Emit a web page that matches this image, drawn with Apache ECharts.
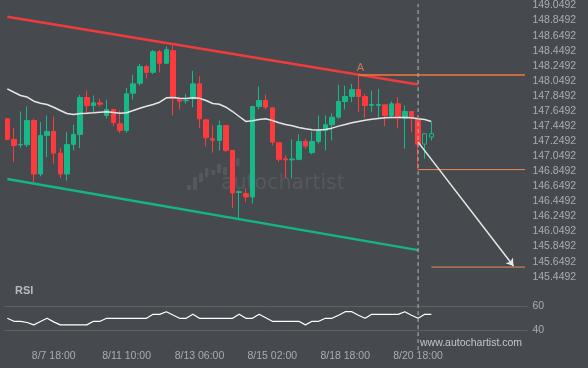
<!DOCTYPE html>
<html><head><meta charset="utf-8">
<script src="https://cdn.jsdelivr.net/npm/echarts@6/dist/echarts.min.js"></script>
<style>html,body{margin:0;padding:0;background:#464a4f;}#c{width:588px;height:368px;}</style>
</head><body><div id="c"></div>
<script>
// ---- data ----
const tickLabels = ['8/7 18:00', '8/11 10:00', '8/13 06:00', '8/15 02:00', '8/18 18:00', '8/20 18:00'];
const tickIndex = [7, 18, 29, 40, 51, 62];
const priceTicks = ['149.0492','148.8492','148.6492','148.4492','148.2492','148.0492','147.8492','147.6492','147.4492','147.2492','147.0492','146.8492','146.6492','146.4492','146.2492','146.0492','145.8492','145.6492','145.4492'];
const rsiTicks = [40, 60];
const slotCount = 79; // 65 candles + future space
// [open, close, low, high]
const candles = [
  [147.546,147.272,147.265,147.555],
  [147.272,147.192,146.971,147.426],
  [147.199,147.205,147.157,147.642],
  [147.201,147.523,147.170,147.712],
  [147.523,146.812,146.703,147.546],
  [146.812,147.325,146.782,147.501],
  [147.325,147.378,147.037,147.589],
  [147.378,147.090,146.950,147.576],
  [147.090,146.812,146.759,147.157],
  [146.812,147.205,146.725,147.368],
  [147.205,147.338,147.126,147.466],
  [147.338,147.828,147.157,147.863],
  [147.828,147.722,147.603,147.920],
  [147.722,147.757,147.633,147.854],
  [147.757,147.739,147.708,147.810],
  [147.589,147.669,147.546,147.797],
  [147.669,147.493,147.448,147.672],
  [147.479,147.391,147.355,147.655],
  [147.391,147.877,147.360,147.956],
  [147.884,148.009,147.801,148.128],
  [148.017,148.238,147.986,148.274],
  [148.238,148.162,148.083,148.260],
  [148.162,148.436,148.141,148.459],
  [148.436,148.282,148.162,148.459],
  [148.282,148.463,148.274,148.507],
  [148.450,147.824,147.589,148.516],
  [147.810,147.779,147.669,147.824],
  [147.784,147.791,147.744,147.877],
  [147.810,148.009,147.700,148.181],
  [148.009,147.546,147.421,148.109],
  [147.532,147.294,147.179,147.535],
  [147.281,147.262,147.096,147.457],
  [147.258,147.457,147.126,147.523],
  [147.457,147.126,147.104,147.460],
  [147.126,146.561,146.362,147.130],
  [146.568,146.578,146.222,146.597],
  [146.553,146.508,146.442,146.619],
  [146.508,147.708,146.421,147.712],
  [147.708,147.788,147.669,147.973],
  [147.788,147.699,147.669,147.867],
  [147.691,147.236,147.192,147.694],
  [147.228,147.007,146.971,147.231],
  [147.013,147.000,146.759,147.060],
  [147.000,147.011,146.752,147.272],
  [147.007,147.245,146.994,147.338],
  [147.245,147.183,147.149,147.281],
  [147.096,147.245,147.073,147.378],
  [147.245,147.391,147.215,147.589],
  [147.391,147.466,147.126,147.589],
  [147.466,147.567,147.258,147.619],
  [147.567,147.775,147.546,147.996],
  [147.775,147.841,147.669,147.986],
  [147.841,147.933,147.765,148.009],
  [147.933,147.841,147.633,148.128],
  [147.841,147.722,147.554,147.877],
  [147.724,147.735,147.633,147.920],
  [147.724,147.735,147.554,147.943],
  [147.731,147.589,147.448,147.734],
  [147.589,147.744,147.567,147.775],
  [147.744,147.559,147.421,147.832],
  [147.554,147.642,147.149,147.722],
  [147.642,147.554,147.368,147.645],
  [147.536,147.209,146.871,147.539],
  [147.209,147.347,147.016,147.350],
  [147.347,147.303,147.258,147.501]
];
const movingAvg = [147.943,147.898,147.854,147.834,147.779,147.752,147.735,147.699,147.655,147.616,
  147.603,147.616,147.620,147.625,147.633,147.638,147.629,147.620,147.625,147.655,
  147.686,147.712,147.735,147.765,147.824,147.828,147.818,147.814,147.824,147.818,
  147.788,147.748,147.739,147.699,147.642,147.576,147.510,147.519,147.536,147.546,
  147.523,147.493,147.470,147.453,147.431,147.413,147.400,147.395,147.404,147.421,
  147.448,147.470,147.493,147.510,147.527,147.540,147.550,147.559,147.563,147.563,
  147.563,147.559,147.546,147.536,147.510];
const rsi = [50,47.5,47.5,46.5,44.5,47.3,50,47,44.5,44.5,
  44.5,44.5,44.5,47.5,47.5,50,50,50,50,50,
  50,50,53.3,53.3,55.5,52.7,50,50,53.3,50,
  50,50,50,50,50,53.3,50,50,53.3,50.4,
  47.5,47.5,47.5,47.5,47.5,44.5,47.5,47.5,50,50,
  52.6,55.5,55.5,52.6,50,53.3,53.3,53.3,53.3,53.3,
  55.5,52.6,50,53.3,53.3];
const upperTrend = [[0,148.900],[62,148.000]];
const lowerTrend = [[0,146.746],[62,145.802]];
const levelA = 148.128;       // resistance point A (candle 53)
const pointAIndex = 53;
const breakoutLevel = 146.871;
const targetLevel = 145.577;
const breakoutIndex = 62;
const arrowFrom = [62, 147.236];
const arrowTo = [76.4, 145.591];
const rightEdge = 78.14;

// ---- chart ----
const BG = '#464a4f', UP = '#17b889', DOWN = '#fd3a3c';
const FONT = '"Liberation Sans", Arial, sans-serif';
const cats = Array.from({length: slotCount}, (_, i) => String(i));
const candleData = candles.map((c, i) => i >= 63
  ? {value: c, itemStyle: {color: BG, color0: BG, borderColor: UP, borderColor0: DOWN}}
  : c);
const pMin = Number(priceTicks[priceTicks.length - 1]), pMax = Number(priceTicks[0]);

const chart = echarts.init(document.getElementById('c'), null, {renderer: 'canvas'});
chart.setOption({
  animation: false,
  backgroundColor: BG,
  grid: [
    {left: 4, top: 4.7, width: 523.4, height: 272},
    {left: 4, top: 294.3, width: 523.4, height: 48}
  ],
  xAxis: [
    {type: 'category', gridIndex: 0, data: cats, boundaryGap: true, show: false},
    {type: 'value', gridIndex: 0, min: -0.5, max: slotCount - 0.5, show: false},
    {type: 'category', gridIndex: 1, data: cats, boundaryGap: true,
      axisLine: {show: false}, axisTick: {show: false}, splitLine: {show: false},
      axisLabel: {
        interval: (i) => tickIndex.indexOf(i) >= 0,
        formatter: (v) => { const k = tickIndex.indexOf(Number(v)); return k >= 0 ? tickLabels[k] : ''; },
        color: '#a9adb1', fontSize: 10.5, fontFamily: FONT, margin: 8
      }}
  ],
  yAxis: [
    {type: 'value', gridIndex: 0, position: 'right', min: pMin, max: pMax, scale: true,
      axisLine: {show: false}, axisTick: {show: false}, splitLine: {show: false},
      axisLabel: {customValues: priceTicks.map(Number), formatter: (v) => v.toFixed(4),
        color: '#a9adb1', fontSize: 10.5, fontFamily: FONT, margin: 5}},
    {type: 'value', gridIndex: 1, position: 'right', min: 30, max: 70,
      axisLine: {show: false}, axisTick: {show: false}, splitLine: {show: false},
      axisLabel: {customValues: rsiTicks, color: '#a9adb1', fontSize: 10.5, fontFamily: FONT, margin: 5}}
  ],
  series: [
    {type: 'candlestick', xAxisIndex: 0, yAxisIndex: 0, data: candleData, barWidth: 5, z: 2,
      itemStyle: {color: UP, color0: DOWN, borderColor: UP, borderColor0: DOWN, borderWidth: 1}},
    {type: 'line', xAxisIndex: 0, yAxisIndex: 0, data: movingAvg, symbol: 'none', z: 3,
      lineStyle: {color: '#e6e6e6', width: 1.5}},
    {type: 'line', xAxisIndex: 1, yAxisIndex: 0, data: upperTrend, symbol: 'none', z: 4,
      lineStyle: {color: '#f03b3d', width: 2.5}},
    {type: 'line', xAxisIndex: 1, yAxisIndex: 0, data: lowerTrend, symbol: 'none', z: 4,
      lineStyle: {color: '#15b486', width: 2.5}},
    {type: 'line', xAxisIndex: 1, yAxisIndex: 0, data: [[pointAIndex, levelA], [rightEdge, levelA]], symbol: 'none', z: 5,
      lineStyle: {color: '#f27838', width: 1.5}},
    {type: 'line', xAxisIndex: 1, yAxisIndex: 0, data: [[breakoutIndex, breakoutLevel], [rightEdge, breakoutLevel]], symbol: 'none', z: 5,
      lineStyle: {color: '#e88a55', width: 1}},
    {type: 'line', xAxisIndex: 1, yAxisIndex: 0, data: [[64, targetLevel], [rightEdge, targetLevel]], symbol: 'none', z: 5,
      lineStyle: {color: '#e88a55', width: 1}},
    {type: 'scatter', xAxisIndex: 1, yAxisIndex: 0, data: [[pointAIndex + 0.3, levelA]], symbolSize: 0, z: 6,
      label: {show: true, position: 'top', distance: 1, formatter: 'A', color: '#e4834c', fontSize: 11, fontFamily: FONT}},
    {type: 'lines', coordinateSystem: 'cartesian2d', xAxisIndex: 1, yAxisIndex: 0, z: 6,
      symbol: ['none', 'arrow'], symbolSize: 7,
      lineStyle: {color: '#e8e8e8', width: 1.5, opacity: 1},
      data: [{coords: [arrowFrom, arrowTo]}]},
    {type: 'line', xAxisIndex: 2, yAxisIndex: 1, data: rsi, symbol: 'none', z: 3,
      lineStyle: {color: '#ffffff', width: 1.2},
      markLine: {silent: true, symbol: 'none', label: {show: false},
        lineStyle: {color: '#5d6166', width: 1, type: 'solid'},
        data: rsiTicks.map(v => ({yAxis: v}))}},
    {type: 'line', xAxisIndex: 2, yAxisIndex: 1, clip: false, symbol: 'none', z: 7,
      data: [[breakoutIndex, 23.5], [breakoutIndex, 312]],
      lineStyle: {color: '#b3b6b9', width: 1, type: [4, 3]}}
  ],
  graphic: [
    {type: 'group', silent: true, z: 0, children: [
      {type: 'rect', shape: {x: 187, y: 185, width: 4, height: 5, r: 1}, style: {fill: '#55595e'}},
      {type: 'rect', shape: {x: 193, y: 177, width: 4, height: 13, r: 1}, style: {fill: '#55595e'}},
      {type: 'rect', shape: {x: 199, y: 173, width: 4, height: 9, r: 1}, style: {fill: '#55595e'}},
      {type: 'rect', shape: {x: 205, y: 168, width: 3.5, height: 9, r: 1}, style: {fill: '#55595e'}},
      {type: 'rect', shape: {x: 211.5, y: 170, width: 3.5, height: 5, r: 1}, style: {fill: '#55595e'}},
      {type: 'rect', shape: {x: 217, y: 164, width: 4, height: 9, r: 1}, style: {fill: '#55595e'}},
      {type: 'rect', shape: {x: 223, y: 167, width: 4, height: 8, r: 1}, style: {fill: '#55595e'}},
      {type: 'rect', shape: {x: 236, y: 158, width: 3.5, height: 8, r: 1}, style: {fill: '#55595e'}},
      {type: 'text', x: 221, y: 173, style: {text: 'autochartist', fill: '#55595e', font: '20.5px "DejaVu Sans"'}}
    ]},
    {type: 'text', x: 15, y: 285, style: {text: 'RSI', fill: '#b7bbbf', font: 'bold 11px ' + FONT}},
    {type: 'text', x: 420, y: 338, style: {text: 'www.autochartist.com', fill: '#c3c6c9', font: '10.5px ' + FONT}}
  ]
});
</script></body></html>
